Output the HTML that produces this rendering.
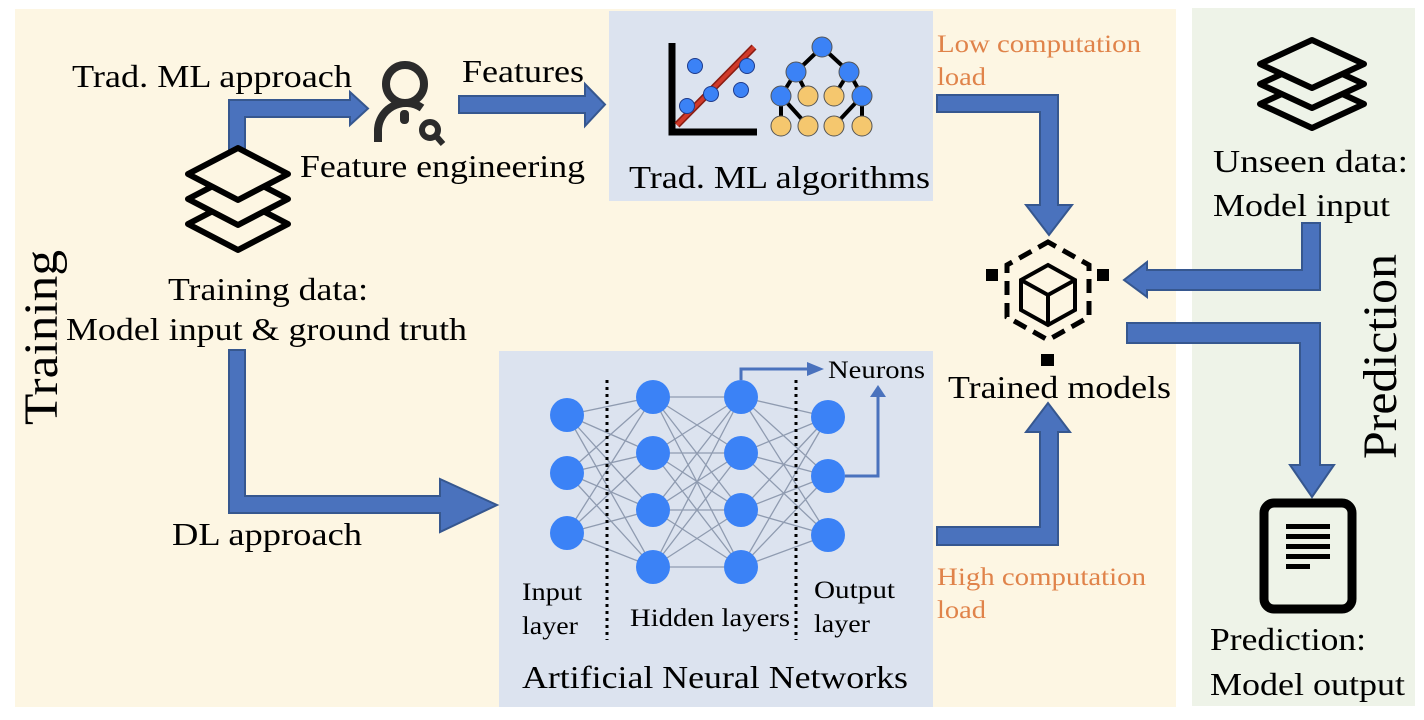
<!DOCTYPE html>
<html><head><meta charset="utf-8"><style>
html,body{margin:0;padding:0;background:#fff;}
svg{display:block;}
text{font-family:"Liberation Serif",serif;}
</style></head><body>
<svg width="1424" height="720" viewBox="0 0 1424 720" xmlns="http://www.w3.org/2000/svg">
<rect x="15" y="9" width="1161" height="698" fill="#fdf6e3"/>
<rect x="1192" y="8" width="223" height="698" fill="#eef3e8"/>
<rect x="609" y="11" width="324" height="190" fill="#dce3ef"/>
<rect x="499" y="351" width="434" height="356" fill="#dce3ef"/>

<g fill="#4a72bd" stroke="#36578f" stroke-width="2">
<path d="M229,155 V100 H350 V92 L368,108.5 L350,125 V117 H245 V155 Z"/>
<path d="M459,96 H585 V84 L605,104.5 L585,126 V113 H459 Z"/>
<path d="M229,350 V513 H440 V532 L497,505 L440,479 V496 H245 V350 Z"/>
<path d="M937,95 H1058 V205 H1072 L1049,235 L1026,205 H1040 V112 H937 Z"/>
<path d="M937,545 H1058 V432 H1070 L1048,403 L1026,432 H1040 V527 H937 Z"/>
<path d="M1302,223 H1320 V290 H1147 V297 L1124,280 L1147,262 V270 H1302 Z"/>
<path d="M1127,323 H1320 V465 H1334 L1312,497 L1290,465 H1300 V343 H1127 Z"/>
</g>

<g fill="none" stroke="#000" stroke-width="6" stroke-linejoin="round">
<path d="M188,224 L238,198 L288,224 L238,250 Z" />
<path d="M188,199 L238,173 L288,199 L238,225 Z" fill="#fdf6e3"/>
<path d="M188,174 L238,148 L288,174 L238,200 Z" fill="#fdf6e3"/>
</g>
<g fill="none" stroke="#000" stroke-width="6" stroke-linejoin="round">
<path d="M1260,104 L1312,80 L1364,104 L1312,128 Z"/>
<path d="M1260,84 L1312,60 L1364,84 L1312,108 Z" fill="#eef3e8"/>
<path d="M1260,64 L1312,40 L1364,64 L1312,88 Z" fill="#eef3e8"/>
</g>

<g fill="none" stroke="#2b2b2b" stroke-width="8">
<circle cx="405" cy="84" r="19"/>
<path d="M378,142 V132 A28,28 0 0 1 422,108" />
<circle cx="430" cy="130" r="8" stroke-width="6"/>
<path d="M436,136 L443,144" stroke-width="6"/>
</g>
<rect x="400" y="110" width="9" height="14" rx="4" fill="#2b2b2b"/>

<path d="M672,43 V132 H757" fill="none" stroke="#000" stroke-width="7"/>
<path d="M677,125 L754,47" stroke="#8a1c12" stroke-width="7"/>
<path d="M677,125 L754,47" stroke="#d03a2a" stroke-width="4"/>
<g fill="#3b82f6" stroke="#1e3a8a" stroke-width="1">
<circle cx="695" cy="66" r="7.5"/><circle cx="747" cy="66" r="7.5"/>
<circle cx="711" cy="94" r="7.5"/><circle cx="741" cy="90" r="7.5"/>
<circle cx="687" cy="106" r="7.5"/>
</g>
<g stroke="#000" stroke-width="4">
<path d="M822,47 L796,72 M822,47 L849,72 M796,72 L781,96 M796,72 L808,96 M849,72 L834,96 M849,72 L862,96 M781,96 L781,126 M781,96 L808,126 M862,96 L834,126 M862,96 L862,126"/>
</g>
<g stroke="#555" stroke-width="1">
<circle cx="822" cy="47" r="10" fill="#3b82f6"/>
<circle cx="796" cy="72" r="10" fill="#3b82f6"/><circle cx="849" cy="72" r="10" fill="#3b82f6"/>
<circle cx="781" cy="96" r="10" fill="#3b82f6"/><circle cx="808" cy="96" r="10" fill="#f5c76e"/>
<circle cx="834" cy="96" r="10" fill="#f5c76e"/><circle cx="862" cy="96" r="10" fill="#3b82f6"/>
<circle cx="781" cy="126" r="10" fill="#f5c76e"/><circle cx="808" cy="126" r="10" fill="#f5c76e"/>
<circle cx="834" cy="126" r="10" fill="#f5c76e"/><circle cx="862" cy="126" r="10" fill="#f5c76e"/>
</g>

<g stroke="#8f9bb0" stroke-width="1.3">
<path d="M567,415 L653,397 M567,415 L653,453 M567,415 L653,510 M567,415 L653,567 M567,473 L653,397 M567,473 L653,453 M567,473 L653,510 M567,473 L653,567 M567,533 L653,397 M567,533 L653,453 M567,533 L653,510 M567,533 L653,567"/>
<path d="M653,397 L741,397 M653,397 L741,453 M653,397 L741,510 M653,397 L741,567 M653,453 L741,397 M653,453 L741,453 M653,453 L741,510 M653,453 L741,567 M653,510 L741,397 M653,510 L741,453 M653,510 L741,510 M653,510 L741,567 M653,567 L741,397 M653,567 L741,453 M653,567 L741,510 M653,567 L741,567"/>
<path d="M741,397 L828,417 M741,397 L828,476 M741,397 L828,535 M741,453 L828,417 M741,453 L828,476 M741,453 L828,535 M741,510 L828,417 M741,510 L828,476 M741,510 L828,535 M741,567 L828,417 M741,567 L828,476 M741,567 L828,535"/>
</g>
<g fill="#3b82f6">
<circle cx="567" cy="415" r="17"/><circle cx="567" cy="473" r="17"/><circle cx="567" cy="533" r="17"/>
<circle cx="653" cy="397" r="17"/><circle cx="653" cy="453" r="17"/><circle cx="653" cy="510" r="17"/><circle cx="653" cy="567" r="17"/>
<circle cx="741" cy="397" r="17"/><circle cx="741" cy="453" r="17"/><circle cx="741" cy="510" r="17"/><circle cx="741" cy="567" r="17"/>
<circle cx="828" cy="417" r="17"/><circle cx="828" cy="476" r="17"/><circle cx="828" cy="535" r="17"/>
</g>
<g stroke="#000" stroke-width="3" stroke-dasharray="3,4">
<path d="M607,380 V640"/><path d="M796,380 V640"/>
</g>
<g fill="none" stroke="#4a72bd" stroke-width="3">
<path d="M741,380 V369 H812"/><path d="M845,476 H878 V394"/>
</g>
<g fill="#4a72bd">
<path d="M807,362 L824,369 L807,376 Z"/><path d="M870,397 L878,385 L886,397 Z"/>
</g>

<g fill="none" stroke="#000" stroke-width="5">
<path d="M1048,242 L1089,265 V317 L1048,340 L1007,317 V265 Z" stroke-dasharray="14,8" stroke-dashoffset="5"/>
<path d="M1048,265 L1075,280 V310 L1048,325 L1021,310 V280 Z" stroke-width="4"/>
<path d="M1021,280 L1048,295 L1075,280 M1048,295 V325" stroke-width="4"/>
</g>
<g fill="#000">
<rect x="986" y="269" width="12" height="12"/><rect x="1097" y="269" width="12" height="12"/><rect x="1041" y="354" width="13" height="12"/>
</g>

<rect x="1264" y="503" width="88" height="106" rx="10" fill="none" stroke="#000" stroke-width="9"/>
<g fill="#000">
<rect x="1286" y="524" width="44" height="5"/><rect x="1286" y="534" width="44" height="5"/><rect x="1286" y="544" width="44" height="5"/><rect x="1286" y="554" width="44" height="5"/><rect x="1286" y="564" width="24" height="5"/>
</g>

<g font-size="32" fill="#000" lengthAdjust="spacingAndGlyphs">
<text x="72" y="87" textLength="280" lengthAdjust="spacingAndGlyphs">Trad. ML approach</text>
<text x="462" y="82" textLength="122" lengthAdjust="spacingAndGlyphs">Features</text>
<text x="300" y="177" textLength="285" lengthAdjust="spacingAndGlyphs">Feature engineering</text>
<text x="168" y="300" textLength="200" lengthAdjust="spacingAndGlyphs">Training data:</text>
<text x="66" y="340" textLength="401" lengthAdjust="spacingAndGlyphs">Model input &amp; ground truth</text>
<text x="172" y="545" textLength="190" lengthAdjust="spacingAndGlyphs">DL approach</text>
<text x="629" y="188" textLength="301" lengthAdjust="spacingAndGlyphs">Trad. ML algorithms</text>
<text x="948" y="398" textLength="223" lengthAdjust="spacingAndGlyphs">Trained models</text>
<text x="1213" y="172" textLength="195" lengthAdjust="spacingAndGlyphs">Unseen data:</text>
<text x="1213" y="216" textLength="177" lengthAdjust="spacingAndGlyphs">Model input</text>
<text x="1210" y="650" textLength="156" lengthAdjust="spacingAndGlyphs">Prediction:</text>
<text x="1210" y="695" textLength="195" lengthAdjust="spacingAndGlyphs">Model output</text>
<text x="522" y="688" textLength="386" lengthAdjust="spacingAndGlyphs">Artificial Neural Networks</text>
</g>
<g font-size="25" fill="#000">
<text x="828" y="378" textLength="97" lengthAdjust="spacingAndGlyphs">Neurons</text>
<text x="522" y="600" textLength="60" lengthAdjust="spacingAndGlyphs">Input</text><text x="522" y="634" textLength="56" lengthAdjust="spacingAndGlyphs">layer</text>
<text x="630" y="626" textLength="160" lengthAdjust="spacingAndGlyphs">Hidden layers</text>
<text x="814" y="598" textLength="81" lengthAdjust="spacingAndGlyphs">Output</text><text x="814" y="632" textLength="56" lengthAdjust="spacingAndGlyphs">layer</text>
</g>
<g font-size="25" fill="#e0834a">
<text x="937" y="52" textLength="204" lengthAdjust="spacingAndGlyphs">Low computation</text><text x="937" y="85" textLength="49" lengthAdjust="spacingAndGlyphs">load</text>
<text x="937" y="585" textLength="209" lengthAdjust="spacingAndGlyphs">High computation</text><text x="937" y="618" textLength="49" lengthAdjust="spacingAndGlyphs">load</text>
</g>
<text font-size="48" fill="#000" transform="translate(57,338) rotate(-90)" x="-87" textLength="175" lengthAdjust="spacingAndGlyphs">Training</text>
<text font-size="48" fill="#000" transform="translate(1396,357) rotate(-90)" x="-102" textLength="205" lengthAdjust="spacingAndGlyphs">Prediction</text>
</svg>
</body></html>
